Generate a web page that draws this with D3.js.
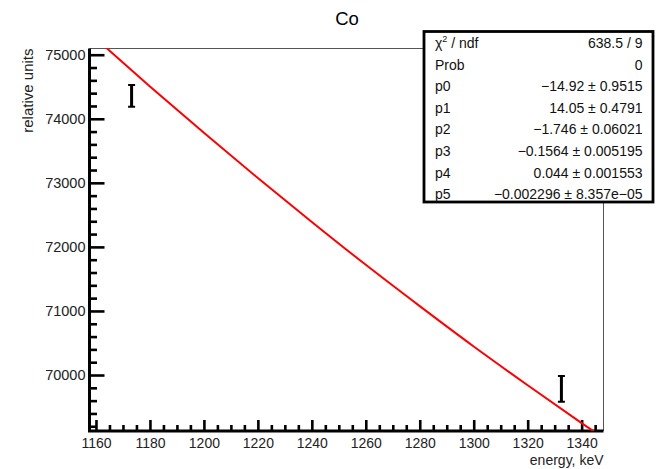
<!DOCTYPE html>
<html>
<head>
<meta charset="utf-8">
<script src="https://cdn.jsdelivr.net/npm/d3@7"></script>
<style>
  html, body { margin: 0; padding: 0; background: #fff; }
  svg { display: block; font-family: "Liberation Sans", Arial, Helvetica, sans-serif; }
</style>
</head>
<body>
<svg id="chart" width="659" height="469"></svg>
<script>
// Measured peak amplitudes (keV vs relative units) with uncertainties
const peakEnergy = [1173.2, 1332.5];
const peakValue = [74358, 69784];
const peakError = [170, 200];

// Fitted curve, sampled across the energy range
const fitEnergy = [1160, 1180, 1200, 1220, 1240, 1260, 1280, 1300, 1320, 1340, 1350];
const fitValue = [75250, 74505, 73780, 73075, 72390, 71720, 71075, 70445, 69840, 69250, 68960];

// Axis ticks
const xMajorTicks = [1160, 1180, 1200, 1220, 1240, 1260, 1280, 1300, 1320, 1340];
const yMajorTicks = [70000, 71000, 72000, 73000, 74000, 75000];

// Fit statistics panel
const statNames = ["χ2 / ndf", "Prob", "p0", "p1", "p2", "p3", "p4", "p5"];
const statValues = ["638.5 / 9", "0", "−14.92 ± 0.9515", "14.05 ± 0.4791", "−1.746 ± 0.06021",
                    "−0.1564 ± 0.005195", "0.044 ± 0.001553", "−0.002296 ± 8.357e−05"];

const title = "Co";
const xTitle = "energy, keV";
const yTitle = "relative units";

const svg = d3.select("#chart");
const frame = { left: 89.5, right: 603.5, top: 48.5, bottom: 431 };

const x = d3.scaleLinear().domain([1157.6, 1348.1]).range([frame.left, frame.right]);
const y = d3.scaleLinear().domain([69126, 75097]).range([frame.bottom, frame.top]);

const xMinor = d3.range(1160, 1348.1, 5).filter(v => !xMajorTicks.includes(v));
const yMinor = d3.range(69200, 75097, 200).filter(v => !yMajorTicks.includes(v));

svg.append("defs").append("clipPath").attr("id", "plotClip")
  .append("rect")
  .attr("x", frame.left).attr("y", frame.top)
  .attr("width", frame.right - frame.left).attr("height", frame.bottom - frame.top);

// Thin frame (top and right edges)
svg.append("path")
  .attr("d", `M${frame.left},${frame.top}H${frame.right}V${frame.bottom}`)
  .attr("fill", "none").attr("stroke", "#555").attr("stroke-width", 1);

// Title
svg.append("text").attr("x", 347).attr("y", 25).attr("text-anchor", "middle")
  .attr("font-size", 18.5).attr("fill", "#000").text(title);

// Y axis
const yAxisG = svg.append("g").attr("transform", `translate(${frame.left},0)`);
yAxisG.call(d3.axisLeft(y).tickValues(yMinor).tickSizeInner(-7.5).tickSizeOuter(0).tickFormat(""));
yAxisG.call(g => g.select(".domain").remove());
const yMajorG = svg.append("g").attr("transform", `translate(${frame.left},0)`);
yMajorG.call(d3.axisLeft(y).tickValues(yMajorTicks).tickSizeInner(-15).tickSizeOuter(0)
  .tickPadding(4).tickFormat(d3.format("d")));
yMajorG.select(".domain").remove();
svg.selectAll("g .tick line").attr("stroke", "#000").attr("stroke-width", 2.6);
yMajorG.selectAll("text").attr("font-size", 14.5).attr("fill", "#222")
  .attr("font-family", "Liberation Sans, Arial, sans-serif");

// X axis
const xMinorG = svg.append("g").attr("transform", `translate(0,${frame.bottom})`);
xMinorG.call(d3.axisBottom(x).tickValues(xMinor).tickSizeInner(-6).tickSizeOuter(0).tickFormat(""));
xMinorG.select(".domain").remove();
const xMajorG = svg.append("g").attr("transform", `translate(0,${frame.bottom})`);
xMajorG.call(d3.axisBottom(x).tickValues(xMajorTicks).tickSizeInner(-11).tickSizeOuter(0)
  .tickPadding(7.5).tickFormat(d3.format("d")));
xMajorG.select(".domain").remove();
svg.selectAll("g .tick line").attr("stroke", "#000").attr("stroke-width", 2.6);
xMajorG.selectAll("text").attr("font-size", 14).attr("fill", "#222")
  .attr("font-family", "Liberation Sans, Arial, sans-serif");

// Thick axis lines
svg.append("path")
  .attr("d", `M${frame.left},${frame.top}V${frame.bottom}H${frame.right}`)
  .attr("fill", "none").attr("stroke", "#000").attr("stroke-width", 3);

// Axis titles
svg.append("text").attr("x", frame.right).attr("y", 464.5).attr("text-anchor", "end")
  .attr("font-size", 14).attr("fill", "#222").text(xTitle);

svg.append("defs").append("clipPath").attr("id", "yTitleClip")
  .append("rect").attr("x", 22).attr("y", 0).attr("width", 60).attr("height", 469);
svg.append("g").attr("clip-path", "url(#yTitleClip)")
  .append("text")
  .attr("transform", `translate(33,${frame.top}) rotate(-90)`)
  .attr("text-anchor", "end").attr("font-size", 15).attr("fill", "#222").text(yTitle);

// Fitted curve
const plot = svg.append("g").attr("clip-path", "url(#plotClip)");
const fitPoints = fitEnergy.map((e, i) => [e, fitValue[i]]);
plot.append("path")
  .datum(fitPoints)
  .attr("d", d3.line().x(d => x(d[0])).y(d => y(d[1])).curve(d3.curveMonotoneX))
  .attr("fill", "none").attr("stroke", "#ff0000").attr("stroke-width", 2);

// Measured points with error bars
const pts = plot.selectAll("g.pt").data(peakEnergy.map((e, i) => ({ e, v: peakValue[i], err: peakError[i] })))
  .join("g").attr("class", "pt");
pts.append("line")
  .attr("x1", d => x(d.e)).attr("x2", d => x(d.e))
  .attr("y1", d => y(d.v + d.err)).attr("y2", d => y(d.v - d.err))
  .attr("stroke", "#000").attr("stroke-width", 3);
pts.append("line")
  .attr("x1", d => x(d.e) - 3.5).attr("x2", d => x(d.e) + 3.5)
  .attr("y1", d => y(d.v + d.err)).attr("y2", d => y(d.v + d.err))
  .attr("stroke", "#000").attr("stroke-width", 2);
pts.append("line")
  .attr("x1", d => x(d.e) - 3.5).attr("x2", d => x(d.e) + 3.5)
  .attr("y1", d => y(d.v - d.err)).attr("y2", d => y(d.v - d.err))
  .attr("stroke", "#000").attr("stroke-width", 2);

// Statistics box
const box = { x: 424, y: 31.5, w: 229, h: 170.5 };
const stats = svg.append("g");
stats.append("rect").attr("x", box.x).attr("y", box.y).attr("width", box.w).attr("height", box.h)
  .attr("fill", "#fff").attr("stroke", "#000").attr("stroke-width", 2.8);
const rowY = i => 48 + i * 21.6;
statNames.forEach((name, i) => {
  const t = stats.append("text").attr("x", 435).attr("y", rowY(i))
    .attr("font-size", 14).attr("fill", "#111");
  if (name.startsWith("χ2")) {
    t.append("tspan").text("χ");
    t.append("tspan").attr("dy", -6).attr("font-size", 9).text("2");
    t.append("tspan").attr("dy", 6).text(" / ndf");
  } else {
    t.text(name);
  }
  stats.append("text").attr("x", 642.5).attr("y", rowY(i)).attr("text-anchor", "end")
    .attr("font-size", 14).attr("fill", "#111").text(statValues[i]);
});
</script>
</body>
</html>
